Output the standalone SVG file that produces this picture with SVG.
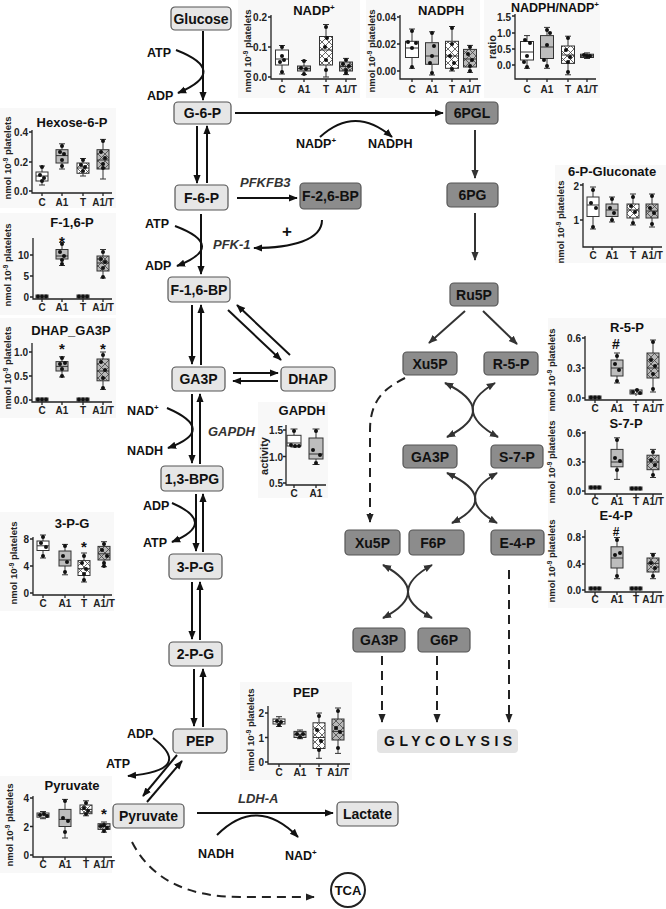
<svg xmlns="http://www.w3.org/2000/svg" width="666" height="909" viewBox="0 0 666 909">
<defs>
<style>
text{font-family:"Liberation Sans",Arial,sans-serif;font-weight:bold;fill:#111}
.nd rect{fill:#e6e6e6;stroke:#555;stroke-width:1.2}
.pp rect{fill:#8c8c8c;stroke:#555;stroke-width:1.2}
.nd text,.pp text{font-size:14px;text-anchor:middle}
.gl rect{fill:#e4e4e4}
.lb{font-size:12.5px}
.en{font-size:13px;font-style:italic;fill:#333}
.a{fill:none;stroke:#111;stroke-width:2;marker-end:url(#ah)}
.g{fill:none;stroke:#333;stroke-width:2;marker-end:url(#ag)}
.x{fill:none;stroke:#333;stroke-width:2;marker-start:url(#ag);marker-end:url(#ag)}
.d{fill:none;stroke:#222;stroke-width:2;stroke-dasharray:9 6;marker-end:url(#ad)}
.cb{fill:#f8f8f8}
.tt{font-size:13px;text-anchor:middle}
.tk{font-size:10px;text-anchor:end;fill:#222}
.ca{font-size:10px;text-anchor:middle;fill:#222}
.yl{font-size:9.5px;text-anchor:middle;fill:#222}
.ax{fill:none;stroke:#222;stroke-width:1.3}
.wk{fill:none;stroke:#333;stroke-width:1}
.bw{fill:#fff;stroke:#333;stroke-width:1}
.bg{fill:#bdbdbd;stroke:#333;stroke-width:1}
.bh{fill:url(#hw);stroke:#333;stroke-width:1}
.bgh{fill:url(#hg);stroke:#333;stroke-width:1}
.dt circle{fill:#111}
.st{font-size:15px;text-anchor:middle}
</style>
<marker id="ah" viewBox="0 0 10 10" refX="9" refY="5" markerWidth="9" markerHeight="9" markerUnits="userSpaceOnUse" orient="auto-start-reverse"><path d="M0,1L10,5L0,9z" fill="#111"/></marker>
<marker id="ag" viewBox="0 0 10 10" refX="9" refY="5" markerWidth="9" markerHeight="9" markerUnits="userSpaceOnUse" orient="auto-start-reverse"><path d="M0,1L10,5L0,9z" fill="#333"/></marker>
<marker id="ad" viewBox="0 0 10 10" refX="9" refY="5" markerWidth="9" markerHeight="9" markerUnits="userSpaceOnUse" orient="auto-start-reverse"><path d="M0,1L10,5L0,9z" fill="#222"/></marker>
<pattern id="hw" width="7" height="7" patternUnits="userSpaceOnUse"><rect width="7" height="7" fill="#fff"/><path d="M0,0L7,7M7,0L0,7" stroke="#444" stroke-width="0.8"/></pattern>
<pattern id="hg" width="7" height="7" patternUnits="userSpaceOnUse"><rect width="7" height="7" fill="#b8b8b8"/><path d="M0,0L7,7M7,0L0,7" stroke="#444" stroke-width="0.8"/></pattern>
</defs>
<rect width="666" height="909" fill="#fff"/>

<!-- connectors -->
<g id="connectors">
<path class="a" d="M203,31V100"/>
<path class="a" d="M176,50Q230,71 178,93"/>
<path class="a" d="M197,126V183"/>
<path class="a" d="M207,183V126"/>
<path class="a" d="M235,113H443"/>
<path class="a" d="M320,137Q355,105 392,137"/>
<path class="a" d="M237,198H297"/>
<path class="a" d="M322,220C322,240 292,248 254,248"/>
<path class="a" d="M201,214V274"/>
<path class="a" d="M175,226Q228,246 177,266"/>
<path class="a" d="M192,305V364"/>
<path class="a" d="M201,365V305"/>
<path class="a" d="M228,310L281,360"/>
<path class="a" d="M290,355L237,305"/>
<path class="a" d="M233,373H278"/>
<path class="a" d="M278,381H233"/>
<path class="a" d="M192,394V463"/>
<path class="a" d="M200,464V394"/>
<path class="a" d="M167,408Q218,430 168,448"/>
<path class="a" d="M196,494V551"/>
<path class="a" d="M203,552V494"/>
<path class="a" d="M172,503Q218,523 172,542"/>
<path class="a" d="M192,582V639"/>
<path class="a" d="M200,640V582"/>
<path class="a" d="M194,669V726"/>
<path class="a" d="M203,727V669"/>
<path class="a" d="M153,738Q195,770 128,776"/>
<path class="a" d="M177,755L143,796"/>
<path class="a" d="M147,802L182,761"/>
<path class="a" d="M197,813H333"/>
<path class="a" d="M217,835Q257,795 298,837"/>
<path class="d" d="M132,842Q160,897 240,897H314"/>
<path class="g" d="M475,130V178"/>
<path class="g" d="M475,213V260"/>
<path class="g" d="M465,311L429,343"/>
<path class="g" d="M483,311L517,344"/>
<path class="x" d="M445,383Q500,410 447,437"/>
<path class="x" d="M495,383Q449,410 498,437"/>
<path class="x" d="M447,473Q501,498 452,523"/>
<path class="x" d="M497,473Q453,498 497,523"/>
<path class="x" d="M383,565Q433,592 383,618"/>
<path class="x" d="M432,565Q384,592 432,618"/>
<path class="d" d="M405,378C385,388 370,400 370,430V522"/>
<path class="d" d="M382,656V722"/>
<path class="d" d="M437,656V722"/>
<path class="d" d="M509,570V722"/>
</g>

<!-- pathway labels -->
<g id="labels">
<text class="lb" x="147" y="56.5">ATP</text>
<text class="lb" x="147" y="99.5">ADP</text>
<text class="lb" x="296" y="148">NADP<tspan dy="-5" font-size="8">+</tspan></text>
<text class="lb" x="368" y="148">NADPH</text>
<text class="en" x="240" y="187">PFKFB3</text>
<text class="en" x="213" y="249">PFK-1</text>
<text x="287" y="237" style="font-size:17px;text-anchor:middle">+</text>
<text class="lb" x="145" y="227.5">ATP</text>
<text class="lb" x="145" y="269.5">ADP</text>
<text class="lb" x="127" y="415">NAD<tspan dy="-5" font-size="8">+</tspan></text>
<text class="lb" x="127" y="455">NADH</text>
<text class="en" x="208" y="436">GAPDH</text>
<text class="lb" x="143" y="510">ADP</text>
<text class="lb" x="143" y="547">ATP</text>
<text class="lb" x="127" y="737.5">ADP</text>
<text class="lb" x="106" y="767.5">ATP</text>
<text class="en" x="238" y="803">LDH-A</text>
<text class="lb" x="198" y="857.5">NADH</text>
<text class="lb" x="285" y="859.5">NAD<tspan dy="-5" font-size="8">+</tspan></text>
</g>

<!-- glycolysis nodes -->
<g id="n-glucose" class="nd"><rect x="171" y="7" width="60" height="23" rx="4"/><text x="201" y="23.5">Glucose</text></g>
<g id="n-g6p" class="nd"><rect x="174" y="102" width="57" height="22" rx="4"/><text x="202.5" y="118">G-6-P</text></g>
<g id="n-f6p" class="nd"><rect x="175" y="185" width="53" height="25" rx="4"/><text x="201.5" y="202.5">F-6-P</text></g>
<g id="n-f16bp" class="nd"><rect x="168" y="277" width="62" height="25" rx="4"/><text x="199" y="294.5">F-1,6-BP</text></g>
<g id="n-ga3p" class="nd"><rect x="172" y="367" width="53" height="24" rx="4"/><text x="198.5" y="384">GA3P</text></g>
<g id="n-dhap" class="nd"><rect x="281" y="367" width="54" height="24" rx="4"/><text x="308" y="384">DHAP</text></g>
<g id="n-13bpg" class="nd"><rect x="161" y="466" width="62" height="25" rx="4"/><text x="192" y="483.5">1,3-BPG</text></g>
<g id="n-3pg" class="nd"><rect x="169" y="554" width="53" height="25" rx="4"/><text x="195.5" y="571.5">3-P-G</text></g>
<g id="n-2pg" class="nd"><rect x="169" y="642" width="53" height="24" rx="4"/><text x="195.5" y="659">2-P-G</text></g>
<g id="n-pep" class="nd"><rect x="173" y="729" width="54" height="24" rx="4"/><text x="200" y="746">PEP</text></g>
<g id="n-pyruvate" class="nd"><rect x="113" y="804" width="71" height="24" rx="4"/><text x="148.5" y="821">Pyruvate</text></g>
<g id="n-lactate" class="nd"><rect x="337" y="802" width="61" height="24" rx="4"/><text x="367.5" y="819">Lactate</text></g>
<g id="n-tca"><circle cx="348" cy="890" r="17" fill="#fff" stroke="#222" stroke-width="2"/><text x="348" y="895" style="font-size:13px;text-anchor:middle">TCA</text></g>
<g id="n-glycolysis" class="gl"><rect x="377" y="729" width="141" height="24" rx="4"/><text x="384" y="746" style="font-size:14px;letter-spacing:4.5px">GLYCOLYSIS</text></g>

<!-- PPP nodes -->
<g id="n-f26bp" class="pp"><rect x="300" y="183" width="61" height="26" rx="4"/><text x="330.5" y="201">F-2,6-BP</text></g>
<g id="n-6pgl" class="pp"><rect x="446" y="102" width="52" height="22" rx="4"/><text x="472" y="118">6PGL</text></g>
<g id="n-6pg" class="pp"><rect x="447" y="183" width="51" height="24" rx="4"/><text x="472.5" y="200">6PG</text></g>
<g id="n-ru5p" class="pp"><rect x="450" y="283" width="48" height="23" rx="4"/><text x="474" y="299.5">Ru5P</text></g>
<g id="n-xu5p" class="pp"><rect x="403" y="352" width="54" height="23" rx="4"/><text x="430" y="368.5">Xu5P</text></g>
<g id="n-r5p" class="pp"><rect x="484" y="352" width="54" height="23" rx="4"/><text x="511" y="368.5">R-5-P</text></g>
<g id="n-ga3p2" class="pp"><rect x="403" y="445" width="54" height="23" rx="4"/><text x="430" y="461.5">GA3P</text></g>
<g id="n-s7p" class="pp"><rect x="491" y="445" width="52" height="23" rx="4"/><text x="517" y="461.5">S-7-P</text></g>
<g id="n-xu5p2" class="pp"><rect x="345" y="530" width="55" height="25" rx="4"/><text x="372.5" y="547.5">Xu5P</text></g>
<g id="n-f6p2" class="pp"><rect x="409" y="530" width="55" height="25" rx="4"/><text x="433" y="547.5">F6P</text></g>
<g id="n-e4p" class="pp"><rect x="491" y="530" width="53" height="25" rx="4"/><text x="517.5" y="547.5">E-4-P</text></g>
<g id="n-ga3p3" class="pp"><rect x="353" y="628" width="52" height="24" rx="4"/><text x="379" y="645">GA3P</text></g>
<g id="n-g6p2" class="pp"><rect x="418" y="628" width="52" height="24" rx="4"/><text x="444" y="645">G6P</text></g>

<!-- chart NADP+ -->
<g id="chart-nadp">
<rect class="cb" x="238" y="0" width="122" height="98"/>
<text class="tt" x="314" y="15">NADP<tspan dy="-5" font-size="8">+</tspan></text>
<text class="yl" transform="translate(251,51) rotate(-90)">nmol 10<tspan dy="-3" font-size="6.5">-9</tspan><tspan dy="3"> platelets</tspan></text>
<path class="ax" d="M271,15V79H356M268,17h3M268,47h3M268,77h3M282,79v3M304,79v3M326,79v3M346,79v3"/>
<text class="tk" x="267" y="21">0.2</text><text class="tk" x="267" y="51">0.1</text><text class="tk" x="267" y="81">0.0</text>
<text class="ca" x="282" y="93">C</text><text class="ca" x="304" y="93">A1</text><text class="ca" x="326" y="93">T</text><text class="ca" x="346" y="93">A1/T</text>
<path class="wk" d="M282,45.5V50M282,65V74M279,45.5h6M279,74h6M304,60.5V66M304,71V74.6M301,60.5h6M301,74.6h6M326,24.5V36.5M326,65V77M323,24.5h6M323,77h6M346,58.4V62M346,71V74.6M343,58.4h6M343,74.6h6"/>
<rect class="bw" x="275.5" y="50" width="13" height="15"/><rect class="bg" x="297.5" y="66" width="13" height="5"/><rect class="bh" x="319.5" y="36.5" width="13" height="28.5"/><rect class="bgh" x="339.5" y="62" width="13" height="9"/>
<path class="wk" d="M275.5,59h13M297.5,68.6h13M319.5,50h13M339.5,66.5h13"/>
<g class="dt"><circle cx="282" cy="47" r="2"/><circle cx="282" cy="56" r="2"/><circle cx="280" cy="62" r="2"/><circle cx="284" cy="60" r="2"/><circle cx="282" cy="72" r="2"/><circle cx="304" cy="61" r="2"/><circle cx="301" cy="68" r="2"/><circle cx="306" cy="69" r="2"/><circle cx="304" cy="74" r="2"/><circle cx="326" cy="27" r="2"/><circle cx="327" cy="38" r="2"/><circle cx="325" cy="47" r="2"/><circle cx="326" cy="60" r="2"/><circle cx="326" cy="70" r="2"/><circle cx="346" cy="60" r="2"/><circle cx="343" cy="64" r="2"/><circle cx="349" cy="66" r="2"/><circle cx="346" cy="70" r="2"/><circle cx="346" cy="73" r="2"/></g>
</g>

<!-- chart NADPH -->
<g id="chart-nadph">
<rect class="cb" x="366" y="0" width="114" height="98"/>
<text class="tt" x="441" y="15">NADPH</text>
<text class="yl" transform="translate(375,51) rotate(-90)">nmol 10<tspan dy="-3" font-size="6.5">-9</tspan><tspan dy="3"> platelets</tspan></text>
<path class="ax" d="M400,15V79H478M397,17h3M397,44h3M397,71h3M412,79v3M432,79v3M452,79v3M470,79v3"/>
<text class="tk" x="396" y="21">0.04</text><text class="tk" x="396" y="48">0.02</text><text class="tk" x="396" y="75">0.00</text>
<text class="ca" x="412" y="93">C</text><text class="ca" x="432" y="93">A1</text><text class="ca" x="452" y="93">T</text><text class="ca" x="470" y="93">A1/T</text>
<path class="wk" d="M412,29V41.3M412,57.5V68.3M409,29h6M409,68.3h6M432,31.8V42.7M432,64.3V75M429,31.8h6M429,75h6M452,26.5V41.3M452,68.3V71M449,26.5h6M449,71h6M470,45.4V49.4M470,67V72.4M467,45.4h6M467,72.4h6"/>
<rect class="bw" x="405.5" y="41.3" width="13" height="16.2"/><rect class="bg" x="425.5" y="42.7" width="13" height="21.6"/><rect class="bh" x="445.5" y="41.3" width="13" height="27"/><rect class="bgh" x="463.5" y="49.4" width="13" height="17.6"/>
<path class="wk" d="M405.5,48h13M425.5,56h13M445.5,56h13M463.5,59h13"/>
<g class="dt"><circle cx="412" cy="31" r="2"/><circle cx="408" cy="42" r="2"/><circle cx="416" cy="43" r="2"/><circle cx="412" cy="48" r="2"/><circle cx="412" cy="67" r="2"/><circle cx="432" cy="33" r="2"/><circle cx="434" cy="46" r="2"/><circle cx="432" cy="56" r="2"/><circle cx="430" cy="63" r="2"/><circle cx="432" cy="73" r="2"/><circle cx="452" cy="28" r="2"/><circle cx="452" cy="44" r="2"/><circle cx="450" cy="56" r="2"/><circle cx="454" cy="63" r="2"/><circle cx="452" cy="69" r="2"/><circle cx="470" cy="47" r="2"/><circle cx="468" cy="54" r="2"/><circle cx="472" cy="60" r="2"/><circle cx="470" cy="66" r="2"/><circle cx="470" cy="71" r="2"/></g>
</g>

<!-- chart NADPH/NADP+ -->
<g id="chart-ratio">
<rect class="cb" x="484" y="0" width="116" height="98"/>
<text class="tt" x="555" y="12" style="font-size:12.5px">NADPH/NADP<tspan dy="-5" font-size="8">+</tspan></text>
<text class="yl" transform="translate(496,47) rotate(-90)" style="font-size:11px">ratio</text>
<path class="ax" d="M515,14V79H596M512,16h3M512,33h3M512,49h3M512,65h3M527,79v3M547,79v3M568,79v3M587,79v3"/>
<text class="tk" x="511" y="21">1.5</text><text class="tk" x="511" y="37">1.0</text><text class="tk" x="511" y="53">0.5</text><text class="tk" x="511" y="69">0.0</text>
<text class="ca" x="527" y="93">C</text><text class="ca" x="547" y="93">A1</text><text class="ca" x="568" y="93">T</text><text class="ca" x="587" y="93">A1/T</text>
<path class="wk" d="M527,35.6V41.5M527,60V68.3M524,35.6h6M524,68.3h6M547,27.4V35.6M547,58.5V68.3M544,27.4h6M544,68.3h6M568,36.2V46M568,63.4V74.8M565,36.2h6M565,74.8h6M587,52.9V54.2M587,57.5V58.5M584,52.9h6M584,58.5h6"/>
<rect class="bw" x="520.5" y="41.5" width="13" height="18.5"/><rect class="bg" x="540.5" y="35.6" width="13" height="22.9"/><rect class="bh" x="561.5" y="46" width="13" height="17.4"/><rect class="bgh" x="580.5" y="54.2" width="13" height="3.3"/>
<path class="wk" d="M520.5,52h13M540.5,47h13M561.5,55h13M580.5,55.8h13"/>
<g class="dt"><circle cx="525" cy="40" r="2"/><circle cx="530" cy="43" r="2"/><circle cx="527" cy="56" r="2"/><circle cx="524" cy="62" r="2"/><circle cx="527" cy="67" r="2"/><circle cx="547" cy="30" r="2"/><circle cx="550" cy="33" r="2"/><circle cx="547" cy="45" r="2"/><circle cx="544" cy="60" r="2"/><circle cx="547" cy="66" r="2"/><circle cx="568" cy="38" r="2"/><circle cx="566" cy="50" r="2"/><circle cx="570" cy="57" r="2"/><circle cx="568" cy="62" r="2"/><circle cx="568" cy="72" r="2"/><circle cx="584" cy="55" r="2"/><circle cx="587" cy="56" r="2"/><circle cx="590" cy="56" r="2"/></g>
</g>

<!-- chart Hexose-6-P -->
<g id="chart-hexose">
<rect class="cb" x="0" y="108" width="116" height="100"/>
<text class="tt" x="72" y="127">Hexose-6-P</text>
<text class="yl" transform="translate(11,158) rotate(-90)">nmol 10<tspan dy="-3" font-size="6.5">-9</tspan><tspan dy="3"> platelets</tspan></text>
<path class="ax" d="M32,130V193H112M29,132h3M29,162h3M29,191h3M42,193v3M62,193v3M83,193v3M103,193v3"/>
<text class="tk" x="28" y="136">0.4</text><text class="tk" x="28" y="166">0.2</text><text class="tk" x="28" y="195">0.0</text>
<text class="ca" x="42" y="206">C</text><text class="ca" x="62" y="206">A1</text><text class="ca" x="83" y="206">T</text><text class="ca" x="103" y="206">A1/T</text>
<path class="wk" d="M42,166V172M42,181V185M39,166h6M39,185h6M62,143.8V149.7M62,163V169M59,143.8h6M59,169h6M83,158.5V163M83,173.3V176M80,158.5h6M80,176h6M103,139.4V149.7M103,169V179M100,139.4h6M100,179h6"/>
<rect class="bw" x="36" y="172" width="12" height="9"/><rect class="bg" x="56" y="149.7" width="12" height="13.3"/><rect class="bh" x="77" y="163" width="12" height="10.3"/><rect class="bgh" x="97" y="149.7" width="12" height="19.3"/>
<path class="wk" d="M36,176h12M56,155.6h12M77,168h12M97,160h12"/>
<g class="dt"><circle cx="42" cy="167" r="2"/><circle cx="40" cy="175" r="2"/><circle cx="44" cy="178" r="2"/><circle cx="42" cy="181" r="2"/><circle cx="62" cy="146" r="2"/><circle cx="60" cy="152" r="2"/><circle cx="64" cy="154" r="2"/><circle cx="62" cy="160" r="2"/><circle cx="62" cy="166" r="2"/><circle cx="83" cy="160" r="2"/><circle cx="81" cy="165" r="2"/><circle cx="85" cy="167" r="2"/><circle cx="83" cy="171" r="2"/><circle cx="103" cy="141" r="2"/><circle cx="101" cy="152" r="2"/><circle cx="105" cy="158" r="2"/><circle cx="103" cy="164" r="2"/><circle cx="103" cy="168" r="2"/></g>
</g>

<!-- chart F-1,6-P -->
<g id="chart-f16p">
<rect class="cb" x="0" y="213" width="116" height="102"/>
<text class="tt" x="72" y="227">F-1,6-P</text>
<text class="yl" transform="translate(11,265) rotate(-90)">nmol 10<tspan dy="-3" font-size="6.5">-9</tspan><tspan dy="3"> platelets</tspan></text>
<path class="ax" d="M33,238V299H112M30,255h3M30,276h3M30,297h3M42,299v3M62,299v3M83,299v3M103,299v3"/>
<text class="tk" x="29" y="259">10</text><text class="tk" x="29" y="280">5</text><text class="tk" x="29" y="301">0</text>
<text class="ca" x="42" y="311">C</text><text class="ca" x="62" y="311">A1</text><text class="ca" x="83" y="311">T</text><text class="ca" x="103" y="311">A1/T</text>
<path class="wk" d="M62,242.4V249.5M62,259V265.5M59,242.4h6M59,265.5h6M103,249.5V256M103,271V278M100,249.5h6M100,278h6"/>
<rect class="bw" x="36" y="295" width="12" height="3"/><rect class="bg" x="56" y="249.5" width="12" height="9.5"/><rect class="bw" x="77" y="295" width="12" height="3"/><rect class="bgh" x="97" y="256" width="12" height="15"/>
<path class="wk" d="M56,256h12M97,263h12"/>
<text class="st" x="62" y="247">*</text>
<g class="dt"><circle cx="38" cy="296.5" r="2"/><circle cx="42" cy="296.5" r="2"/><circle cx="46" cy="296.5" r="2"/><circle cx="79" cy="296.5" r="2"/><circle cx="83" cy="296.5" r="2"/><circle cx="87" cy="296.5" r="2"/><circle cx="62" cy="244" r="2"/><circle cx="60" cy="252" r="2"/><circle cx="64" cy="256" r="2"/><circle cx="62" cy="260" r="2"/><circle cx="62" cy="264" r="2"/><circle cx="103" cy="252" r="2"/><circle cx="101" cy="259" r="2"/><circle cx="105" cy="262" r="2"/><circle cx="103" cy="268" r="2"/><circle cx="103" cy="277" r="2"/></g>
</g>

<!-- chart DHAP_GA3P -->
<g id="chart-dhap">
<rect class="cb" x="0" y="318" width="116" height="100"/>
<text class="tt" x="71" y="335">DHAP_GA3P</text>
<text class="yl" transform="translate(11,368) rotate(-90)">nmol 10<tspan dy="-3" font-size="6.5">-9</tspan><tspan dy="3"> platelets</tspan></text>
<path class="ax" d="M32,343V402H112M29,352h3M29,376h3M29,400h3M42,402v3M62,402v3M83,402v3M103,402v3"/>
<text class="tk" x="28" y="356">1.0</text><text class="tk" x="28" y="380">0.5</text><text class="tk" x="28" y="404">0.0</text>
<text class="ca" x="42" y="414">C</text><text class="ca" x="62" y="414">A1</text><text class="ca" x="83" y="414">T</text><text class="ca" x="103" y="414">A1/T</text>
<path class="wk" d="M62,356.8V361.6M62,371V377M59,356.8h6M59,377h6M103,352V359M103,380.8V389.4M100,352h6M100,389.4h6"/>
<rect class="bw" x="36" y="398" width="12" height="3"/><rect class="bg" x="56" y="361.6" width="12" height="9.4"/><rect class="bw" x="77" y="398" width="12" height="3"/><rect class="bgh" x="97" y="359" width="12" height="21.8"/>
<path class="wk" d="M56,366.4h12M97,371h12"/>
<text class="st" x="62" y="354">*</text><text class="st" x="103" y="354">*</text>
<g class="dt"><circle cx="38" cy="399.5" r="2"/><circle cx="42" cy="399.5" r="2"/><circle cx="46" cy="399.5" r="2"/><circle cx="79" cy="399.5" r="2"/><circle cx="83" cy="399.5" r="2"/><circle cx="87" cy="399.5" r="2"/><circle cx="62" cy="358" r="2"/><circle cx="60" cy="364" r="2"/><circle cx="65" cy="363" r="2"/><circle cx="62" cy="369" r="2"/><circle cx="62" cy="376" r="2"/><circle cx="103" cy="355" r="2"/><circle cx="101" cy="362" r="2"/><circle cx="105" cy="370" r="2"/><circle cx="103" cy="378" r="2"/><circle cx="103" cy="388" r="2"/></g>
</g>

<!-- chart GAPDH -->
<g id="chart-gapdh">
<rect class="cb" x="258" y="402" width="70" height="96"/>
<text class="tt" x="302" y="415">GAPDH</text>
<text class="yl" transform="translate(268,456) rotate(-90)" style="font-size:11px">activity</text>
<path class="ax" d="M286,425V485H326M283,430h3M283,456.5h3M283,483h3M294,485v3M316,485v3"/>
<text class="tk" x="283" y="434">1.5</text><text class="tk" x="283" y="460.5">1.0</text><text class="tk" x="283" y="487">0.5</text>
<text class="ca" x="294" y="497">C</text><text class="ca" x="316" y="497">A1</text>
<path class="wk" d="M294,429V435.3M294,446V447M290.5,429h7M290.5,447h7M316,429V438M316,459V464.5M312.5,429h7M312.5,464.5h7"/>
<rect class="bw" x="287" y="435.3" width="14" height="10.7"/><rect class="bg" x="309" y="438" width="14" height="21"/>
<path class="wk" d="M287,443h14M309,454h14"/>
<g class="dt"><circle cx="291" cy="445" r="2"/><circle cx="295" cy="446" r="2"/><circle cx="299" cy="446" r="2"/><circle cx="294" cy="431" r="2"/><circle cx="316" cy="431" r="2"/><circle cx="313" cy="450" r="2"/><circle cx="320" cy="455" r="2"/><circle cx="316" cy="463" r="2"/></g>
</g>

<!-- chart 3-P-G -->
<g id="chart-3pg">
<rect class="cb" x="0" y="512" width="114" height="99"/>
<text class="tt" x="72" y="528">3-P-G</text>
<text class="yl" transform="translate(17,563) rotate(-90)">nmol 10<tspan dy="-3" font-size="6.5">-9</tspan><tspan dy="3"> platelets</tspan></text>
<path class="ax" d="M33,537V595H112M30,539h3M30,566h3M30,593h3M43,595v3M65,595v3M84,595v3M104,595v3"/>
<text class="tk" x="29" y="543">8</text><text class="tk" x="29" y="570">4</text><text class="tk" x="29" y="597">0</text>
<text class="ca" x="43" y="607">C</text><text class="ca" x="65" y="607">A1</text><text class="ca" x="84" y="607">T</text><text class="ca" x="104" y="607">A1/T</text>
<path class="wk" d="M43,535V541M43,550.5V558M40,535h6M40,558h6M65,544.4V551M65,566V574.8M62,544.4h6M62,574.8h6M84,553V560.6M84,575.5V582M81,553h6M81,582h6M104,541.7V546.4M104,560V566.7M101,541.7h6M101,566.7h6"/>
<rect class="bw" x="37" y="541" width="12" height="9.5"/><rect class="bg" x="59" y="551" width="12" height="15"/><rect class="bh" x="78" y="560.6" width="12" height="14.9"/><rect class="bgh" x="98" y="546.4" width="12" height="13.6"/>
<path class="wk" d="M37,545.8h12M59,560h12M78,568.7h12M98,553.8h12"/>
<text class="st" x="84" y="552">*</text>
<g class="dt"><circle cx="43" cy="537" r="2"/><circle cx="41" cy="543" r="2"/><circle cx="46" cy="547" r="2"/><circle cx="43" cy="556" r="2"/><circle cx="65" cy="546" r="2"/><circle cx="63" cy="556" r="2"/><circle cx="67" cy="562" r="2"/><circle cx="65" cy="572" r="2"/><circle cx="84" cy="556" r="2"/><circle cx="82" cy="563" r="2"/><circle cx="86" cy="569" r="2"/><circle cx="84" cy="574" r="2"/><circle cx="84" cy="580" r="2"/><circle cx="104" cy="544" r="2"/><circle cx="102" cy="550" r="2"/><circle cx="107" cy="556" r="2"/><circle cx="104" cy="563" r="2"/><circle cx="104" cy="566" r="2"/></g>
</g>

<!-- chart PEP -->
<g id="chart-pep">
<rect class="cb" x="240" y="682" width="112" height="98"/>
<text class="tt" x="306" y="697">PEP</text>
<text class="yl" transform="translate(254,730) rotate(-90)">nmol 10<tspan dy="-3" font-size="6.5">-9</tspan><tspan dy="3"> platelets</tspan></text>
<path class="ax" d="M268,706V764H350M265,713h3M265,737.5h3M265,762h3M279,764v3M300,764v3M319,764v3M338,764v3"/>
<text class="tk" x="264" y="717">2</text><text class="tk" x="264" y="741.5">1</text><text class="tk" x="264" y="766">0</text>
<text class="ca" x="279" y="776">C</text><text class="ca" x="300" y="776">A1</text><text class="ca" x="319" y="776">T</text><text class="ca" x="338" y="776">A1/T</text>
<path class="wk" d="M279,716.7V719M279,724V726.5M276,716.7h6M276,726.5h6M300,730V731.4M300,737.5V738.7M297,730h6M297,738.7h6M319,713V722.8M319,748.5V758.3M316,713h6M316,758.3h6M338,708V719M338,740V753.4M335,708h6M335,753.4h6"/>
<rect class="bw" x="273" y="719" width="12" height="5"/><rect class="bg" x="294" y="731.4" width="12" height="6.1"/><rect class="bh" x="313" y="722.8" width="12" height="25.7"/><rect class="bgh" x="332" y="719" width="12" height="21"/>
<path class="wk" d="M273,721.6h12M294,734.6h12M313,737.5h12M332,731.4h12"/>
<g class="dt"><circle cx="277" cy="721" r="2"/><circle cx="281" cy="722" r="2"/><circle cx="279" cy="725" r="2"/><circle cx="297" cy="734" r="2"/><circle cx="303" cy="734" r="2"/><circle cx="300" cy="737" r="2"/><circle cx="319" cy="716" r="2"/><circle cx="317" cy="730" r="2"/><circle cx="321" cy="741" r="2"/><circle cx="319" cy="750" r="2"/><circle cx="338" cy="711" r="2"/><circle cx="336" cy="728" r="2"/><circle cx="340" cy="732" r="2"/><circle cx="338" cy="748" r="2"/></g>
</g>

<!-- chart Pyruvate -->
<g id="chart-pyruvate">
<rect class="cb" x="0" y="776" width="112" height="97"/>
<text class="tt" x="72" y="790">Pyruvate</text>
<text class="yl" transform="translate(13,825) rotate(-90)">nmol 10<tspan dy="-3" font-size="6.5">-9</tspan><tspan dy="3"> platelets</tspan></text>
<path class="ax" d="M33,796V857H112M30,798h3M30,826.5h3M30,855h3M43,857v3M65,857v3M86,857v3M104,857v3"/>
<text class="tk" x="29" y="802">4</text><text class="tk" x="29" y="830.5">2</text><text class="tk" x="29" y="859">0</text>
<text class="ca" x="43" y="868">C</text><text class="ca" x="65" y="868">A1</text><text class="ca" x="86" y="868">T</text><text class="ca" x="104" y="868">A1/T</text>
<path class="wk" d="M43,811.5V813M43,817.2V818.7M40,811.5h6M40,818.7h6M65,799.4V809.4M65,826.5V838M62,799.4h6M62,838h6M86,800.8V805M86,813.7V815.8M83,800.8h6M83,815.8h6M104,822V823.7M104,829.4V832.2M101,822h6M101,832.2h6"/>
<rect class="bw" x="37" y="813" width="12" height="4.2"/><rect class="bg" x="59" y="809.4" width="12" height="17.1"/><rect class="bh" x="80" y="805" width="12" height="8.7"/><rect class="bgh" x="98" y="823.7" width="12" height="5.7"/>
<path class="wk" d="M37,815h12M59,819.4h12M80,809.4h12M98,826.5h12"/>
<text class="st" x="104" y="819">*</text>
<g class="dt"><circle cx="40" cy="815" r="2"/><circle cx="44" cy="814" r="2"/><circle cx="47" cy="816" r="2"/><circle cx="65" cy="801" r="2"/><circle cx="63" cy="818" r="2"/><circle cx="68" cy="821" r="2"/><circle cx="65" cy="832" r="2"/><circle cx="86" cy="803" r="2"/><circle cx="84" cy="808" r="2"/><circle cx="88" cy="811" r="2"/><circle cx="86" cy="814" r="2"/><circle cx="101" cy="826" r="2"/><circle cx="104" cy="825" r="2"/><circle cx="107" cy="828" r="2"/><circle cx="104" cy="831" r="2"/></g>
</g>

<!-- chart 6-P-Gluconate -->
<g id="chart-6pg">
<rect class="cb" x="555" y="165" width="111" height="98"/>
<text class="tt" x="568" y="176" style="text-anchor:start;font-size:13px">6-P-Gluconate</text>
<text class="yl" transform="translate(564,222) rotate(-90)">nmol 10<tspan dy="-3" font-size="6.5">-9</tspan><tspan dy="3"> platelets</tspan></text>
<path class="ax" d="M583,183V247H662M580,185h3M580,220h3M593,247v3M612,247v3M633,247v3M652,247v3"/>
<text class="tk" x="579" y="190">2</text><text class="tk" x="579" y="224">1</text>
<text class="ca" x="593" y="259">C</text><text class="ca" x="612" y="259">A1</text><text class="ca" x="633" y="259">T</text><text class="ca" x="652" y="259">A1/T</text>
<path class="wk" d="M593,187V197M593,216.5V229M590,187h6M590,229h6M612,197V204M612,216.5V222M609,197h6M609,222h6M633,194V204M633,218V225M630,194h6M630,225h6M652,194V204M652,218V227M649,194h6M649,227h6"/>
<rect class="bw" x="587" y="197" width="12" height="19.5"/><rect class="bg" x="606" y="204" width="12" height="12.5"/><rect class="bh" x="627" y="204" width="12" height="14"/><rect class="bgh" x="646" y="204" width="12" height="14"/>
<path class="wk" d="M587,205h12M606,210h12M627,210h12M646,211h12"/>
<g class="dt"><circle cx="593" cy="190" r="2"/><circle cx="591" cy="203" r="2"/><circle cx="596" cy="208" r="2"/><circle cx="593" cy="227" r="2"/><circle cx="612" cy="199" r="2"/><circle cx="610" cy="208" r="2"/><circle cx="614" cy="213" r="2"/><circle cx="612" cy="220" r="2"/><circle cx="633" cy="197" r="2"/><circle cx="631" cy="206" r="2"/><circle cx="635" cy="212" r="2"/><circle cx="633" cy="223" r="2"/><circle cx="652" cy="196" r="2"/><circle cx="650" cy="208" r="2"/><circle cx="654" cy="213" r="2"/><circle cx="652" cy="224" r="2"/></g>
</g>

<!-- chart R-5-P -->
<g id="chart-r5p">
<rect class="cb" x="548" y="318" width="118" height="98"/>
<text class="tt" x="627" y="332">R-5-P</text>
<text class="yl" transform="translate(555,370) rotate(-90)">nmol 10<tspan dy="-3" font-size="6.5">-9</tspan><tspan dy="3"> platelets</tspan></text>
<path class="ax" d="M585,336V400H662M582,338h3M582,368h3M582,398h3M595,400v3M617,400v3M636,400v3M653,400v3"/>
<text class="tk" x="581" y="342">0.6</text><text class="tk" x="581" y="372">0.3</text><text class="tk" x="581" y="402">0.0</text>
<text class="ca" x="595" y="412">C</text><text class="ca" x="617" y="412">A1</text><text class="ca" x="636" y="412">T</text><text class="ca" x="653" y="412">A1/T</text>
<path class="wk" d="M617,353V360M617,376V383M614,353h6M614,383h6M636,389V390M636,394V396M653,340V353M653,378V392M650,340h6M650,392h6"/>
<rect class="bw" x="589" y="396" width="12" height="3"/><rect class="bg" x="611" y="360" width="12" height="16"/><rect class="bh" x="630" y="390" width="12" height="4"/><rect class="bgh" x="647" y="353" width="12" height="25"/>
<path class="wk" d="M611,368h12M647,368h12"/>
<text x="616" y="349" style="font-size:14px;text-anchor:middle">#</text>
<g class="dt"><circle cx="591" cy="397.5" r="2"/><circle cx="595" cy="397.5" r="2"/><circle cx="599" cy="397.5" r="2"/><circle cx="617" cy="356" r="2"/><circle cx="615" cy="364" r="2"/><circle cx="619" cy="370" r="2"/><circle cx="617" cy="381" r="2"/><circle cx="633" cy="392" r="2"/><circle cx="637" cy="390" r="2"/><circle cx="640" cy="393" r="2"/><circle cx="653" cy="342" r="2"/><circle cx="651" cy="360" r="2"/><circle cx="655" cy="366" r="2"/><circle cx="653" cy="374" r="2"/><circle cx="653" cy="389" r="2"/></g>
</g>

<!-- chart S-7-P -->
<g id="chart-s7p">
<rect class="cb" x="548" y="416" width="118" height="94"/>
<text class="tt" x="626" y="428">S-7-P</text>
<text class="yl" transform="translate(555,462) rotate(-90)">nmol 10<tspan dy="-3" font-size="6.5">-9</tspan><tspan dy="3"> platelets</tspan></text>
<path class="ax" d="M585,431V494H662M582,433h3M582,462h3M582,491h3M595,494v3M617,494v3M636,494v3M653,494v3"/>
<text class="tk" x="581" y="437">0.6</text><text class="tk" x="581" y="466">0.3</text><text class="tk" x="581" y="495">0.0</text>
<text class="ca" x="595" y="505">C</text><text class="ca" x="617" y="505">A1</text><text class="ca" x="636" y="505">T</text><text class="ca" x="653" y="505">A1/T</text>
<path class="wk" d="M617,437.8V449.4M617,466.8V479.4M614,437.8h6M614,479.4h6M653,449.4V455.2M653,469.7V477.5M650,449.4h6M650,477.5h6"/>
<rect class="bw" x="589" y="486" width="12" height="3"/><rect class="bg" x="611" y="449.4" width="12" height="17.4"/><rect class="bw" x="630" y="487" width="12" height="3"/><rect class="bgh" x="647" y="455.2" width="12" height="14.5"/>
<path class="wk" d="M611,462h12M647,462h12"/>
<g class="dt"><circle cx="591" cy="487.5" r="2"/><circle cx="595" cy="487.5" r="2"/><circle cx="599" cy="487.5" r="2"/><circle cx="632" cy="488.5" r="2"/><circle cx="636" cy="488.5" r="2"/><circle cx="640" cy="488.5" r="2"/><circle cx="617" cy="440" r="2"/><circle cx="615" cy="458" r="2"/><circle cx="620" cy="461" r="2"/><circle cx="617" cy="470" r="2"/><circle cx="653" cy="452" r="2"/><circle cx="651" cy="460" r="2"/><circle cx="655" cy="465" r="2"/><circle cx="653" cy="475" r="2"/></g>
</g>

<!-- chart E-4-P -->
<g id="chart-e4p">
<rect class="cb" x="548" y="510" width="118" height="98"/>
<text class="tt" x="616" y="520">E-4-P</text>
<text class="yl" transform="translate(555,561) rotate(-90)">nmol 10<tspan dy="-3" font-size="6.5">-9</tspan><tspan dy="3"> platelets</tspan></text>
<path class="ax" d="M585,530V592H662M582,537h3M582,564h3M582,590h3M595,592v3M617,592v3M636,592v3M653,592v3"/>
<text class="tk" x="581" y="541">0.8</text><text class="tk" x="581" y="568">0.4</text><text class="tk" x="581" y="594">0.0</text>
<text class="ca" x="595" y="603">C</text><text class="ca" x="617" y="603">A1</text><text class="ca" x="636" y="603">T</text><text class="ca" x="653" y="603">A1/T</text>
<path class="wk" d="M617,537.5V546.8M617,568V578.7M614,537.5h6M614,578.7h6M653,553.4V558M653,572V578.7M650,553.4h6M650,578.7h6"/>
<rect class="bw" x="589" y="587" width="12" height="3"/><rect class="bg" x="611" y="546.8" width="12" height="21.2"/><rect class="bw" x="630" y="587" width="12" height="3"/><rect class="bgh" x="647" y="558" width="12" height="14"/>
<path class="wk" d="M611,558h12M647,563.4h12"/>
<text x="616" y="536" style="font-size:12px;text-anchor:middle">#</text>
<g class="dt"><circle cx="591" cy="588.5" r="2"/><circle cx="595" cy="588.5" r="2"/><circle cx="599" cy="588.5" r="2"/><circle cx="632" cy="588.5" r="2"/><circle cx="636" cy="588.5" r="2"/><circle cx="640" cy="588.5" r="2"/><circle cx="617" cy="540" r="2"/><circle cx="615" cy="555" r="2"/><circle cx="620" cy="553" r="2"/><circle cx="617" cy="576" r="2"/><circle cx="653" cy="555" r="2"/><circle cx="651" cy="563" r="2"/><circle cx="655" cy="568" r="2"/><circle cx="653" cy="576" r="2"/></g>
</g>
</svg>
